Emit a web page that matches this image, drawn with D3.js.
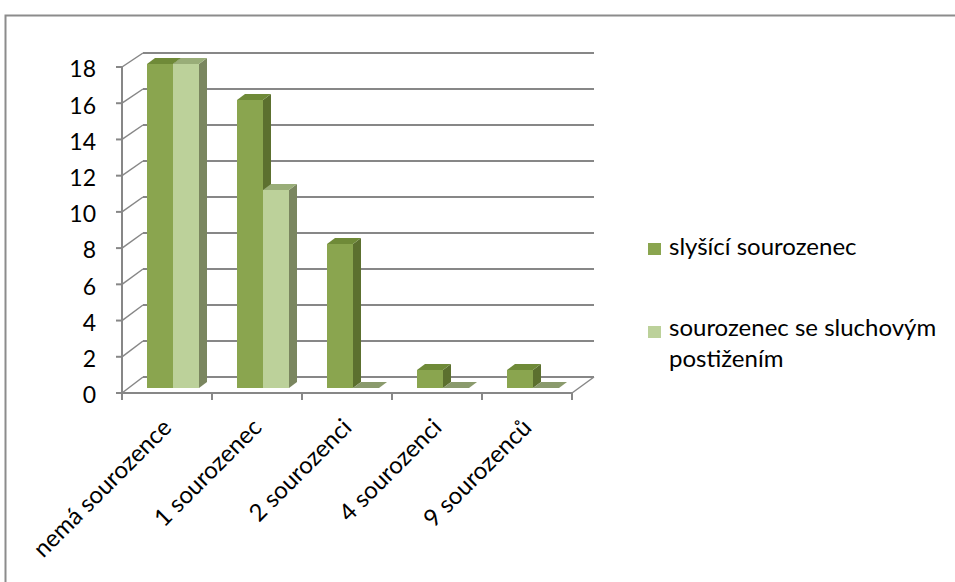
<!DOCTYPE html>
<html><head><meta charset="utf-8">
<script src="https://cdn.jsdelivr.net/npm/d3@7"></script>
<style>body{margin:0;background:#fff}svg{display:block}</style>
</head><body>
<svg id="c" width="955" height="582"></svg>
<script>
const categories = ["nemá sourozence", "1 sourozenec", "2 sourozenci", "4 sourozenci", "9 sourozenců"];
const seriesNames = ["slyšící sourozenec", "sourozenec se sluchovým postižením"];
const hearing = [18, 16, 8, 1, 1];
const impaired = [18, 11, 0, 0, 0];
const yTicks = [0, 2, 4, 6, 8, 10, 12, 14, 16, 18];

const svg = d3.select("#c");
const font = "Lato, 'Open Sans', sans-serif";
const gridCol = "#878787";

// frame
svg.append("rect").attr("x", 5.5).attr("y", 15.5).attr("width", 1000).attr("height", 1000)
  .attr("fill", "none").attr("stroke", "#8c8c8c").attr("stroke-width", 2);

const x = d3.scaleBand().domain(categories).range([122, 572]);
const yFront = d3.scaleLinear().domain([0, 18]).range([393, 67]);
const yBack = d3.scaleLinear().domain([0, 18]).range([377, 53]);
const yBar = d3.scaleLinear().domain([0, 18]).range([388, 64]);
const backDX = 21;
const backX0 = 122 + backDX, backX1 = 572 + backDX + 1;

const g = svg.append("g");
g.selectAll("line.grid").data(yTicks).join("line")
  .attr("x1", backX0).attr("x2", backX1)
  .attr("y1", d => yBack(d)).attr("y2", d => yBack(d))
  .attr("stroke", gridCol).attr("stroke-width", 2);
g.selectAll("line.diag").data(yTicks).join("line")
  .attr("x1", 122).attr("y1", d => yFront(d))
  .attr("x2", backX0).attr("y2", d => yBack(d))
  .attr("stroke", gridCol).attr("stroke-width", 1.5);
g.append("line").attr("x1", 572).attr("y1", yFront(0)).attr("x2", backX1).attr("y2", yBack(0))
  .attr("stroke", gridCol).attr("stroke-width", 1.5);
g.append("line").attr("x1", 122).attr("x2", 572).attr("y1", yFront(0)).attr("y2", yFront(0))
  .attr("stroke", gridCol).attr("stroke-width", 2);
g.append("line").attr("x1", 122).attr("x2", 122).attr("y1", yFront(18)).attr("y2", yFront(0) + 1)
  .attr("stroke", gridCol).attr("stroke-width", 2);
g.selectAll("line.yt").data(yTicks).join("line")
  .attr("x1", 116).attr("x2", 122).attr("y1", d => yFront(d)).attr("y2", d => yFront(d))
  .attr("stroke", gridCol).attr("stroke-width", 2);
const bounds = categories.map(c => x(c)).concat([572]);
g.selectAll("line.xt").data(bounds).join("line")
  .attr("x1", d => d).attr("x2", d => d).attr("y1", yFront(0)).attr("y2", yFront(0) + 7)
  .attr("stroke", gridCol).attr("stroke-width", 2);

// y labels
svg.selectAll("text.yl").data(yTicks).join("text")
  .attr("x", 96).attr("y", d => yFront(d) + 2).attr("dy", "0.36em")
  .attr("text-anchor", "end").attr("font-family", font).attr("font-size", 23).attr("fill", "#000")
  .text(d => d);

// bars
const off = 6;
const bw = 26, ddx = 8, ddy = 6;
const styles = [
  {front: "#8aa54f", side: "#5c702f", top: "#6f8a38"},
  {front: "#bcd19a", side: "#7a865f", top: "#99ad78"}
];
const zeroCol = "#8a9a6c";
const bars = [];
categories.forEach((c, i) => {
  const cx = x(c) + x.bandwidth() / 2 + off;
  [hearing[i], impaired[i]].forEach((v, s) => {
    bars.push({x0: cx - bw + s * bw, v, s});
  });
});
const bg = svg.append("g");
bars.forEach(b => {
  const st = styles[b.s];
  const yb = yBar(0), yt = yBar(b.v);
  const x0 = b.x0, x1 = b.x0 + bw;
  if (b.v === 0) {
    bg.append("path").attr("d", `M${x0},${yb}L${x1},${yb}L${x1+ddx},${yb-ddy}L${x0+ddx},${yb-ddy}Z`).attr("fill", zeroCol);
    return;
  }
  bg.append("path").attr("d", `M${x1},${yb}L${x1+ddx},${yb-ddy}L${x1+ddx},${yt-ddy}L${x1},${yt}Z`).attr("fill", st.side);
  bg.append("path").attr("d", `M${x0},${yt}L${x1},${yt}L${x1+ddx},${yt-ddy}L${x0+ddx},${yt-ddy}Z`).attr("fill", st.top);
  bg.append("rect").attr("x", x0).attr("y", yt).attr("width", bw).attr("height", yb - yt).attr("fill", st.front);
});

// x labels
svg.selectAll("text.xl").data(categories).join("text")
  .attr("transform", c => `translate(${x(c) + x.bandwidth() / 2 + 6},${429}) rotate(-45)`)
  .attr("text-anchor", "end").attr("font-family", font).attr("font-size", 24).attr("fill", "#000")
  .text(c => c);

// legend
const lg = svg.append("g");
lg.append("rect").attr("x", 648).attr("y", 243).attr("width", 13).attr("height", 12).attr("fill", styles[0].front);
lg.append("text").attr("x", 669).attr("y", 255).attr("font-family", font).attr("font-size", 24).text(seriesNames[0]);
lg.append("rect").attr("x", 648).attr("y", 326).attr("width", 13).attr("height", 12).attr("fill", styles[1].front);
const t2 = lg.append("text").attr("font-family", font).attr("font-size", 24);
t2.append("tspan").attr("x", 669).attr("y", 336).text("sourozenec se sluchovým");
t2.append("tspan").attr("x", 669).attr("y", 367).text("postižením");
</script>
</body></html>
